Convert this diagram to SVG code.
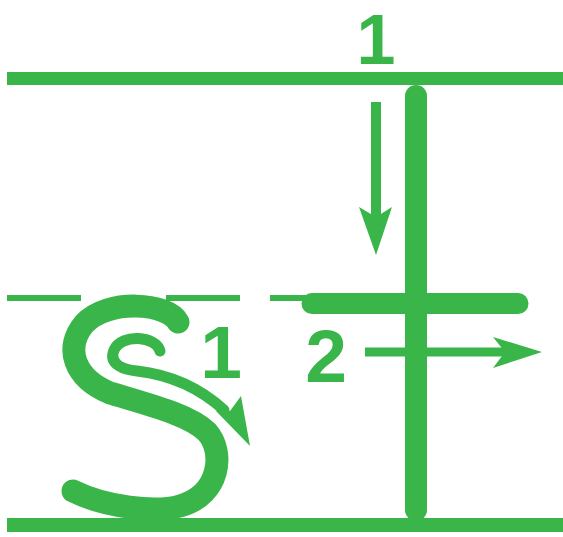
<svg xmlns="http://www.w3.org/2000/svg" width="563" height="537" viewBox="0 0 563 537">
<style>
.g{fill:#3ab54a}
.s{fill:none;stroke:#3ab54a}
.t{font-family:"Liberation Sans",Arial,sans-serif;font-weight:bold;font-size:75px;fill:#3ab54a;text-anchor:middle}
</style>
<rect width="563" height="537" fill="#ffffff"/>
<g id="guides">
<rect class="g" x="7" y="72" width="556" height="13"/>
<rect class="g" x="7" y="518" width="556" height="14"/>
<rect class="g" x="7" y="295" width="74" height="6"/>
<rect class="g" x="166" y="295" width="74" height="6"/>
<rect class="g" x="270" y="295" width="40" height="6"/>
</g>
<g id="letter-S">
<path class="s" stroke-width="23" stroke-linecap="round" d="M178 322 C168 303,108 298,84 324 C64 348,74 378,110 393 C150 405,190 415,207 432 C225 452,220 495,180 506 C155 513,105 507,73 491"/>
</g>
<g id="letter-T">
<line class="s" x1="416" y1="96" x2="416" y2="510" stroke-width="22" stroke-linecap="round"/>
<line class="s" x1="312" y1="303.5" x2="518" y2="303.5" stroke-width="21" stroke-linecap="round"/>
</g>
<g id="connectors">
<path class="s" stroke-width="11" stroke-linecap="round" d="M160 351 C156 336,122 333,114 350 C108 365,125 370,137 371 C172 375,202 390,224 410"/>
<polygon class="g" points="250,446 241,396 230,411 216,411"/>
<rect class="g" x="371" y="102" width="10" height="116"/>
<polygon class="g" points="376,255 359,207 376,217 392,207"/>
<rect class="g" x="365" y="347.5" width="142" height="9"/>
<polygon class="g" points="542,352 493,337 505,352 493,368"/>
</g>
<g id="labels">
<text class="t" x="376" y="63.5" font-size="70" style="font-size:70px">1</text>
<text class="t" x="326" y="382">2</text>
<text class="t" x="221" y="378">1</text>
</g>
</svg>
